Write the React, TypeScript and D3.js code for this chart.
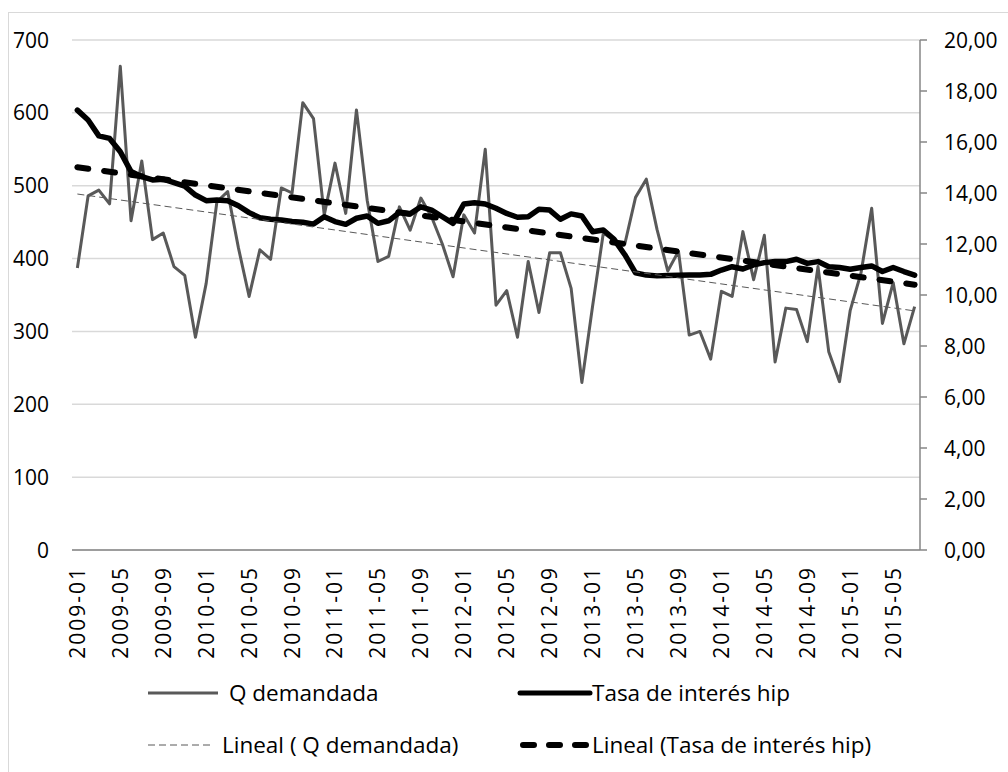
import React from "react";
import * as d3 from "d3";

// monthly categories 2009-01 .. 2015-07
const months = [
  "2009-01", "2009-02", "2009-03", "2009-04", "2009-05", "2009-06", "2009-07", "2009-08", "2009-09", "2009-10", "2009-11", "2009-12",
  "2010-01", "2010-02", "2010-03", "2010-04", "2010-05", "2010-06", "2010-07", "2010-08", "2010-09", "2010-10", "2010-11", "2010-12",
  "2011-01", "2011-02", "2011-03", "2011-04", "2011-05", "2011-06", "2011-07", "2011-08", "2011-09", "2011-10", "2011-11", "2011-12",
  "2012-01", "2012-02", "2012-03", "2012-04", "2012-05", "2012-06", "2012-07", "2012-08", "2012-09", "2012-10", "2012-11", "2012-12",
  "2013-01", "2013-02", "2013-03", "2013-04", "2013-05", "2013-06", "2013-07", "2013-08", "2013-09", "2013-10", "2013-11", "2013-12",
  "2014-01", "2014-02", "2014-03", "2014-04", "2014-05", "2014-06", "2014-07", "2014-08", "2014-09", "2014-10", "2014-11", "2014-12",
  "2015-01", "2015-02", "2015-03", "2015-04", "2015-05", "2015-06", "2015-07",
];

const qDemandada = [
  387, 486, 494, 475, 664, 452, 534, 426, 435, 389, 377, 292,
  366, 478, 492, 415, 348, 412, 399, 497, 490, 614, 592, 460,
  531, 462, 604, 480, 396, 403, 471, 439, 483, 457, 420, 375,
  460, 435, 550, 336, 356, 292, 396, 326, 408, 408, 359, 230,
  335, 435, 425, 420, 484, 509, 440, 383, 410, 295, 300, 262,
  355, 348, 437, 371, 432, 258, 332, 330, 286, 389, 272, 231,
  329, 380, 469, 311, 367, 283, 334,
];

const tasaHip = [
  17.25, 16.86, 16.24, 16.14, 15.62, 14.84, 14.64, 14.51, 14.54, 14.41, 14.27, 13.92,
  13.7, 13.73, 13.7, 13.5, 13.23, 13.03, 12.97, 12.94, 12.88, 12.85, 12.78, 13.07,
  12.88, 12.77, 13.01, 13.1, 12.81, 12.91, 13.24, 13.18, 13.46, 13.33, 13.07, 12.81,
  13.57, 13.62, 13.57, 13.4, 13.2, 13.05, 13.07, 13.36, 13.33, 12.97, 13.18, 13.1,
  12.48, 12.55, 12.18, 11.58, 10.87, 10.78, 10.75, 10.76, 10.77, 10.78, 10.78, 10.81,
  10.98, 11.11, 11.02, 11.18, 11.27, 11.31, 11.31, 11.4, 11.24, 11.31, 11.11, 11.08,
  11.01, 11.08, 11.14, 10.92, 11.08, 10.92, 10.78,
];

const leftTicks = [0, 100, 200, 300, 400, 500, 600, 700];
const rightTicks = [0, 2, 4, 6, 8, 10, 12, 14, 16, 18, 20];
const labelEvery = 4;

const W = 1008;
const H = 772;
const m = { left: 72, right: 920, top: 40, bottom: 550 };
const FONT = "'Open Sans', sans-serif";
const Q_COLOR = "#595959";

// least squares line over the point index, like Excel's linear trendline
function linearFit(vals: number[]) {
  const n = vals.length;
  const xs = vals.map((_, i) => i + 1);
  const mx = d3.mean(xs) as number;
  const my = d3.mean(vals) as number;
  let sxy = 0;
  let sxx = 0;
  xs.forEach((x, i) => {
    sxy += (x - mx) * (vals[i] - my);
    sxx += (x - mx) * (x - mx);
  });
  const b = sxy / sxx;
  const a = my - b * mx;
  return [a + b * 1, a + b * n];
}

const fmtRight = (v: number) => d3.format(".2f")(v).replace(".", ",");

export default function App() {
  const x = d3.scalePoint<string>().domain(months).range([m.left, m.right]).padding(0.5);
  const yL = d3.scaleLinear().domain([0, 700]).range([m.bottom, m.top]);
  const yR = d3.scaleLinear().domain([0, 20]).range([m.bottom, m.top]);

  const lineQ = d3
    .line<number>()
    .x((_, i) => x(months[i]) as number)
    .y((d) => yL(d));
  const lineT = d3
    .line<number>()
    .x((_, i) => x(months[i]) as number)
    .y((d) => yR(d));

  const qFit = linearFit(qDemandada);
  const tFit = linearFit(tasaHip);
  const x0 = x(months[0]) as number;
  const x1 = x(months[months.length - 1]) as number;

  const legendRows = [
    { y: 693, items: [
      { x: 148, w: 70, tx: 229, label: "Q demandada", stroke: Q_COLOR, sw: 3, dash: undefined as string | undefined, cap: "butt" },
      { x: 520, w: 70, tx: 592, label: "Tasa de interés hip", stroke: "#000", sw: 5, dash: undefined, cap: "round" },
    ] },
    { y: 745, items: [
      { x: 148, w: 64, tx: 222, label: "Lineal ( Q demandada)", stroke: Q_COLOR, sw: 1, dash: "7,4", cap: "butt" },
      { x: 523, w: 66, tx: 592, label: "Lineal (Tasa de interés hip)", stroke: "#000", sw: 6, dash: "11,15", cap: "round" },
    ] },
  ];

  return (
    <svg width={W} height={H} style={{ position: "absolute", left: 0, top: 0, background: "#fff" }} fontFamily={FONT}>
      <rect x={8.5} y={12.5} width={W} height={H} fill="#fff" stroke="#d9d9d9" />

      {/* gridlines (left axis) */}
      {leftTicks.map((t) => (
        <line key={"g" + t} x1={m.left} x2={m.right} y1={yL(t)} y2={yL(t)} stroke="#d9d9d9" strokeWidth={1.5} />
      ))}
      {leftTicks.map((t) => (
        <text key={"l" + t} x={49} y={yL(t)} dy="0.36em" textAnchor="end" fontSize={21} fill="#000">
          {t}
        </text>
      ))}

      {/* x axis */}
      <line x1={m.left} x2={m.right} y1={m.bottom} y2={m.bottom} stroke="#868686" strokeWidth={1.5} />
      {months.map((mo, i) =>
        i % labelEvery === 0 ? (
          <text
            key={mo}
            transform={`translate(${(x(mo) as number) + 7.5},${m.bottom + 16}) rotate(-90)`}
            textAnchor="end"
            fontSize={21}
            letterSpacing={2}
            fill="#000"
          >
            {mo}
          </text>
        ) : null
      )}

      {/* right axis */}
      <line x1={m.right} x2={m.right} y1={m.top} y2={m.bottom} stroke="#868686" strokeWidth={1.5} />
      {rightTicks.map((t) => (
        <g key={"r" + t}>
          <line x1={m.right} x2={m.right + 7} y1={yR(t)} y2={yR(t)} stroke="#868686" strokeWidth={1.5} />
          <text x={944} y={yR(t)} dy="0.36em" fontSize={21} fill="#000">
            {fmtRight(t)}
          </text>
        </g>
      ))}

      {/* series */}
      <path d={lineQ(qDemandada) as string} fill="none" stroke={Q_COLOR} strokeWidth={3} strokeLinejoin="round" />
      <path d={lineT(tasaHip) as string} fill="none" stroke="#000" strokeWidth={5.5} strokeLinejoin="round" strokeLinecap="round" />

      {/* trendlines */}
      <line x1={x0} x2={x1} y1={yL(qFit[0])} y2={yL(qFit[1])} stroke={Q_COLOR} strokeWidth={1} strokeDasharray="7,4" />
      <line x1={x0} x2={x1} y1={yR(tFit[0])} y2={yR(tFit[1])} stroke="#000" strokeWidth={6} strokeDasharray="11,16" strokeLinecap="round" />

      {/* legend */}
      {legendRows.map((row) =>
        row.items.map((it) => (
          <g key={it.label}>
            <line
              x1={it.x}
              x2={it.x + it.w}
              y1={row.y}
              y2={row.y}
              stroke={it.stroke}
              strokeWidth={it.sw}
              strokeDasharray={it.dash}
              strokeLinecap={it.cap as any}
            />
            <text x={it.tx} y={row.y} dy="0.36em" fontSize={22.5} fill="#000">
              {it.label}
            </text>
          </g>
        ))
      )}
    </svg>
  );
}
